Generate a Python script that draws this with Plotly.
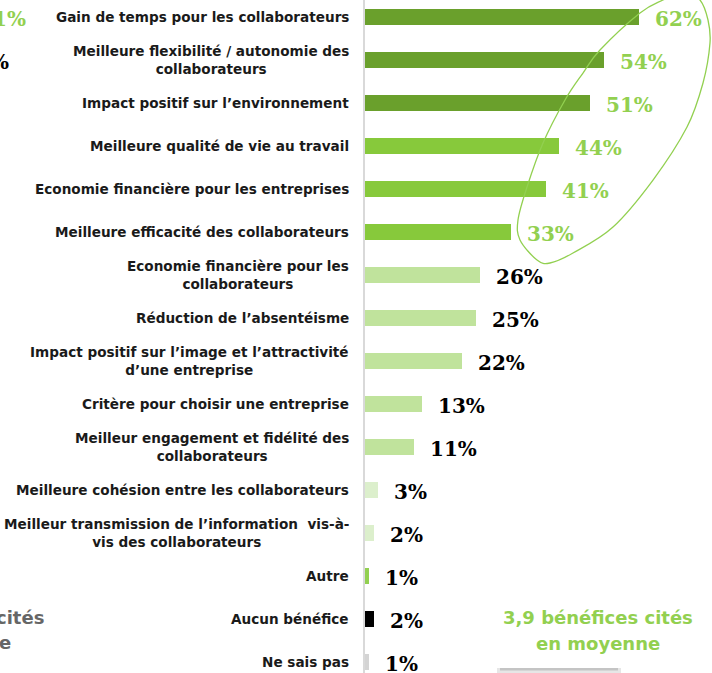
import numpy as np
import plotly.graph_objects as go

categories = [
    "Gain de temps pour les collaborateurs",
    "Meilleure flexibilité / autonomie des<br>collaborateurs",
    "Impact positif sur l’environnement",
    "Meilleure qualité de vie au travail",
    "Economie financière pour les entreprises",
    "Meilleure efficacité des collaborateurs",
    "Economie financière pour les<br>collaborateurs",
    "Réduction de l’absentéisme",
    "Impact positif sur l’image et l’attractivité<br>d’une entreprise",
    "Critère pour choisir une entreprise",
    "Meilleur engagement et fidélité des<br>collaborateurs",
    "Meilleure cohésion entre les collaborateurs",
    "Meilleur transmission de l’information  vis-à-<br>vis des collaborateurs",
    "Autre",
    "Aucun bénéfice",
    "Ne sais pas",
]
values = [62, 54, 51, 44, 41, 33, 26, 25, 22, 13, 11, 3, 2, 1, 2, 1]
bar_colors = (["#6aa02c"] * 3 + ["#87c93b"] * 3 + ["#c0e39c"] * 5 +
              ["#dcefcc"] * 2 + ["#92d050", "#000000", "#d4d4d4"])
label_colors = ["#92d050"] * 6 + ["#000000"] * 10
average_lines = ["3,9 bénéfices cités", "en moyenne"]

W, H = 712, 673
L = 365
PX_PER_PCT = 4.42
ROW = 43.0
TOP_CENTER = 17.0

ypos = list(range(len(categories)))

fig = go.Figure()
fig.add_trace(go.Bar(
    x=values, y=ypos, orientation="h",
    marker=dict(color=bar_colors, line=dict(width=0)),
    width=0.37, hoverinfo="skip",
))

LABEL_FONT = "DejaVu Sans"
annotations = []
for i, (c, v, lc) in enumerate(zip(categories, values, label_colors)):
    annotations.append(dict(
        x=0, y=i, xref="x", yref="y", text=c, showarrow=False,
        xanchor="right", yanchor="middle", align="center", xshift=-14,
        font=dict(family=LABEL_FONT, size=13.6, color="#1a1a1a", weight=700),
    ))
    annotations.append(dict(
        x=v, y=i, xref="x", yref="y", text=f"{v}%", showarrow=False,
        xanchor="left", yanchor="middle", xshift=14, yshift=-2,
        font=dict(family="DejaVu Serif", size=20, color=lc, weight=700),
    ))

plot_w = W - L


def px_to_paper(px, py):
    return (px - L) / plot_w, 1 - py / H


# average text (right)
for txt, py in zip(average_lines, [617, 643]):
    ax, ay = px_to_paper(598, py)
    annotations.append(dict(x=ax, y=ay, xref="paper", yref="paper", text=txt,
                            showarrow=False, xanchor="center", yanchor="middle",
                            font=dict(family=LABEL_FONT, size=18, color="#92d050", weight=700)))
# cut-off fragments of the neighbouring chart on the left edge
for txt, px, py, col, fam, sz in [
    ("1%", 28, 19, "#92d050", "DejaVu Serif", 20),
    ("%", 11, 62, "#000000", "DejaVu Serif", 20),
    ("cités", 46, 617, "#666666", LABEL_FONT, 18),
    ("e", 13, 642, "#666666", LABEL_FONT, 18),
]:
    fx, fy = px_to_paper(px, py)
    annotations.append(dict(x=fx, y=fy, xref="paper", yref="paper", text=txt,
                            showarrow=False, xanchor="right", yanchor="middle",
                            font=dict(family=fam, size=sz, color=col, weight=700)))

# ellipse-like outline around the top 6 (smooth closed curve through outline points, pixels)
outline = np.array([
    (684, -8), (700, 0), (708, 20), (710, 43), (703, 83), (687, 127), (653, 180),
    (613, 227), (573, 253), (550, 263), (537, 260), (520, 240), (518, 220),
    (527, 187), (543, 143), (565, 100), (583, 73), (600, 50), (640, 13), (663, 0)], float)
n = len(outline)
p0 = px_to_paper(*outline[0])
segs = [f"M {p0[0]:.4f},{p0[1]:.4f}"]
for i in range(n):
    pm, pa, pb, pp = outline[i - 1], outline[i], outline[(i + 1) % n], outline[(i + 2) % n]
    c1 = pa + (pb - pm) / 6
    c2 = pb - (pp - pa) / 6
    q1, q2, q3 = px_to_paper(*c1), px_to_paper(*c2), px_to_paper(*pb)
    segs.append(f"C {q1[0]:.4f},{q1[1]:.4f} {q2[0]:.4f},{q2[1]:.4f} {q3[0]:.4f},{q3[1]:.4f}")
path = " ".join(segs) + " Z"

shapes = [dict(type="path", path=path, xref="paper", yref="paper",
               line=dict(color="#92d050", width=1.3), layer="above")]
# top of a grey box at the bottom edge
x0, y0 = px_to_paper(497, 668)
x1, y1 = px_to_paper(621, 690)
shapes.append(dict(type="rect", xref="paper", yref="paper", x0=x0, y0=y0, x1=x1, y1=y1,
                   fillcolor="#e6e6e6", line=dict(width=0), layer="below"))
x0, y0 = px_to_paper(500, 668)
x1, y1 = px_to_paper(618, 670.5)
shapes.append(dict(type="rect", xref="paper", yref="paper", x0=x0, y0=y0, x1=x1, y1=y1,
                   fillcolor="#c4c4c4", line=dict(width=0), layer="below"))

y_top = 0 - TOP_CENTER / ROW
y_bot = y_top + H / ROW

fig.update_layout(
    width=W, height=H,
    margin=dict(l=L, r=0, t=0, b=0),
    paper_bgcolor="white", plot_bgcolor="white",
    showlegend=False, bargap=0,
    xaxis=dict(range=[0, plot_w / PX_PER_PCT], visible=False, fixedrange=True),
    yaxis=dict(range=[y_bot, y_top], showticklabels=False, showgrid=False,
               zeroline=False, showline=True, linecolor="#d9d9d9", linewidth=2,
               ticks="", fixedrange=True),
    annotations=annotations,
    shapes=shapes,
)

fig.write_html("out.html", config={"displayModeBar": False},
               post_script="document.body.style.margin='0';document.body.style.overflow='hidden';")
